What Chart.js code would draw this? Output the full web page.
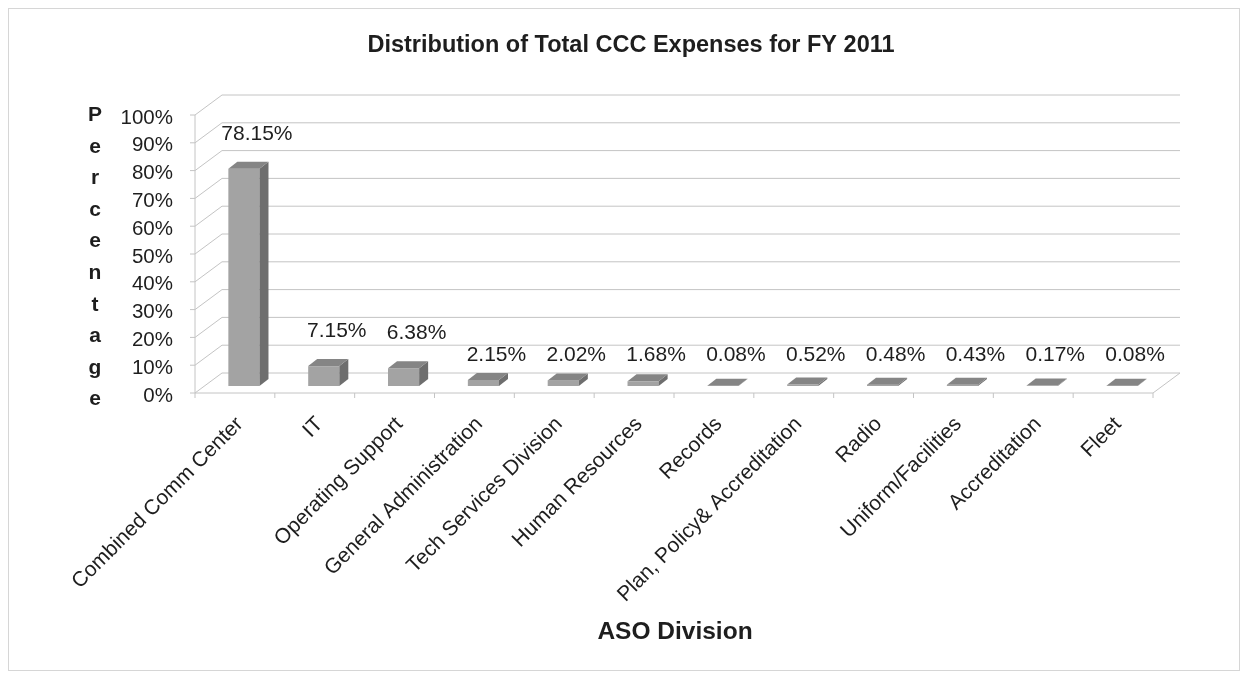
<!DOCTYPE html>
<html>
<head>
<meta charset="utf-8">
<script src="https://cdn.jsdelivr.net/npm/chart.js@4.4.1/dist/chart.umd.min.js"></script>
<style>
body { margin: 0; background: #fff; }
canvas { display: block; }
</style>
</head>
<body>
<canvas id="myChart" width="1248" height="680"></canvas>
<script>
var divisions = ['Combined Comm Center', 'IT', 'Operating Support', 'General Administration',
    'Tech Services Division', 'Human Resources', 'Records', 'Plan, Policy& Accreditation',
    'Radio', 'Uniform/Facilities', 'Accreditation', 'Fleet']
var expenseShare = [78.15, 7.15, 6.38, 2.15, 2.02, 1.68, 0.08, 0.52, 0.48, 0.43, 0.17, 0.08]
var yMax = 100
var yStep = 10

var chartTitle = 'Distribution of Total CCC Expenses for FY 2011'
var xTitle = 'ASO Division'
var yTitle = 'Percentage'

var FONT = '"Liberation Sans", Arial, sans-serif'
var GRID = '#c4c4c4'

// 3d look: bars sit one third into the floor depth
var FRONT = { dx: -9, dy: 7 }
var BACK = { dx: 18, dy: -13 }
var BAR_D = { dx: 9, dy: -7 }

function line(ctx, x1, y1, x2, y2) {
    ctx.beginPath()
    ctx.moveTo(x1, y1)
    ctx.lineTo(x2, y2)
    ctx.stroke()
}

var fake3d = {
    id: 'fake3d',
    beforeDraw(chart) {
        var ctx = chart.ctx
        ctx.save()
        ctx.fillStyle = '#fff'
        ctx.fillRect(0, 0, chart.width, chart.height)
        ctx.strokeStyle = '#d6d6d6'
        ctx.lineWidth = 1
        ctx.strokeRect(8.5, 8.5, chart.width - 17, chart.height - 18)
        ctx.restore()
    },
    beforeDatasetsDraw(chart) {
        var ctx = chart.ctx
        var a = chart.chartArea
        var y = chart.scales.y
        var x = chart.scales.x
        ctx.save()
        ctx.strokeStyle = GRID
        ctx.lineWidth = 1
        for (var v = 0; v <= yMax; v += yStep) {
            var py = y.getPixelForValue(v)
            // left wall
            line(ctx, a.left + FRONT.dx, py + FRONT.dy, a.left + BACK.dx, py + BACK.dy)
            // back wall
            line(ctx, a.left + BACK.dx, py + BACK.dy, a.right + BACK.dx, py + BACK.dy)
            // small tick on the value axis
            line(ctx, a.left + FRONT.dx - 5, py + FRONT.dy, a.left + FRONT.dx, py + FRONT.dy)
        }
        var y0 = y.getPixelForValue(0)
        var yTop = y.getPixelForValue(yMax)
        // value axis line
        line(ctx, a.left + FRONT.dx, yTop + FRONT.dy, a.left + FRONT.dx, y0 + FRONT.dy)
        // floor front edge and right edge
        line(ctx, a.left + FRONT.dx, y0 + FRONT.dy, a.right + FRONT.dx, y0 + FRONT.dy)
        line(ctx, a.right + FRONT.dx, y0 + FRONT.dy, a.right + BACK.dx, y0 + BACK.dy)
        // category ticks
        var half = (x.getPixelForValue(1) - x.getPixelForValue(0)) / 2
        for (var i = 0; i <= divisions.length; i++) {
            var px = x.getPixelForValue(i) - half + FRONT.dx
            line(ctx, px, y0 + FRONT.dy, px, y0 + FRONT.dy + 5)
        }
        ctx.restore()
    },
    afterDatasetsDraw(chart) {
        var ctx = chart.ctx
        var meta = chart.getDatasetMeta(0)
        var base = chart.scales.y.getPixelForValue(0)
        ctx.save()
        meta.data.forEach(function (bar, i) {
            var l = bar.x - bar.width / 2
            var r = bar.x + bar.width / 2
            var t = bar.y
            // side face
            ctx.fillStyle = '#6e6e6e'
            ctx.beginPath()
            ctx.moveTo(r, t)
            ctx.lineTo(r + BAR_D.dx, t + BAR_D.dy)
            ctx.lineTo(r + BAR_D.dx, bar.base + BAR_D.dy)
            ctx.lineTo(r, bar.base)
            ctx.closePath()
            ctx.fill()
            // top face
            ctx.fillStyle = '#858585'
            ctx.beginPath()
            ctx.moveTo(l, t)
            ctx.lineTo(l + BAR_D.dx, t + BAR_D.dy)
            ctx.lineTo(r + BAR_D.dx, t + BAR_D.dy)
            ctx.lineTo(r, t)
            ctx.closePath()
            ctx.fill()

            // value label
            var v = expenseShare[i]
            var ly = v > 5 ? t - 35 : base - 31
            ctx.fillStyle = '#1e1e1e'
            ctx.font = '21px ' + FONT
            ctx.textAlign = 'center'
            ctx.textBaseline = 'middle'
            ctx.fillText(v.toFixed(2) + '%', bar.x + 13, ly)
        })
        ctx.restore()
    },
    afterDraw(chart) {
        var ctx = chart.ctx
        ctx.save()
        ctx.fillStyle = '#1e1e1e'
        ctx.textAlign = 'center'
        ctx.textBaseline = 'alphabetic'
        ctx.font = 'bold 23.5px ' + FONT
        ctx.fillText(chartTitle, 631, 52)
        ctx.font = 'bold 24.5px ' + FONT
        ctx.fillText(xTitle, 675, 639)
        ctx.font = 'bold 21px ' + FONT
        for (var i = 0; i < yTitle.length; i++) {
            ctx.fillText(yTitle[i], 95, 121 + i * 31.6)
        }
        ctx.restore()
    }
}

new Chart('myChart', {
    type: 'bar',
    data: {
        labels: divisions,
        datasets: [{
            data: expenseShare,
            backgroundColor: '#a3a3a3',
            borderWidth: 0,
            barPercentage: 0.39,
            categoryPercentage: 1
        }]
    },
    options: {
        responsive: false,
        animation: false,
        devicePixelRatio: 1,
        layout: { padding: { top: 108, right: 86, left: 0, bottom: 0 } },
        plugins: {
            legend: { display: false },
            tooltip: { enabled: false }
        },
        scales: {
            x: {
                grid: { display: false, drawTicks: false },
                border: { display: false },
                ticks: {
                    autoSkip: false,
                    minRotation: 45,
                    maxRotation: 45,
                    padding: 26,
                    labelOffset: -4,
                    color: '#1e1e1e',
                    font: { family: FONT, size: 21 }
                },
                afterFit: function (s) { s.height = 294 }
            },
            y: {
                min: 0,
                max: yMax,
                grid: { display: false, drawTicks: false },
                border: { display: false },
                ticks: {
                    stepSize: yStep,
                    padding: 31,
                    labelOffset: 10,
                    color: '#1e1e1e',
                    font: { family: FONT, size: 20.5 },
                    callback: function (v) { return v + '%' }
                },
                afterFit: function (s) { s.width = 204 }
            }
        }
    },
    plugins: [fake3d]
})
</script>
</body>
</html>
